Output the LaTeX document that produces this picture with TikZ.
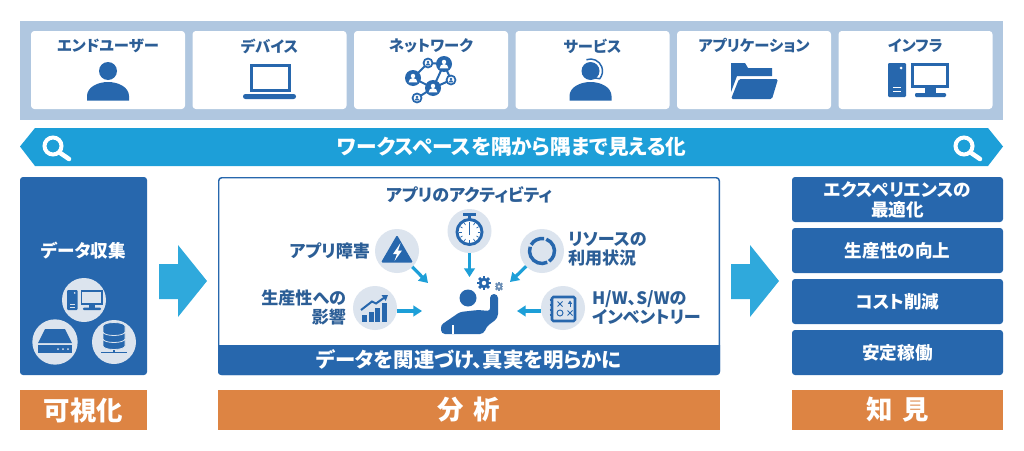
\documentclass[tikz,border=0pt]{standalone}
\usepackage{fontspec}
\setmainfont{Noto Sans CJK JP}[RawFeature={+palt}]
\usetikzlibrary{arrows.meta}
\definecolor{panelblue}{HTML}{B0C7E0}
\definecolor{boxblue}{HTML}{2767AD}
\definecolor{bandblue}{HTML}{1D9FD8}
\definecolor{bigarrowblue}{HTML}{2FA9DC}
\definecolor{softcircle}{HTML}{DCE4EE}
\definecolor{labelblue}{HTML}{2C5E96}
\definecolor{stageorange}{HTML}{DD8443}
\tikzset{
	every node/.style={inner sep=0pt, outer sep=0pt},
	cardbox/.style={fill=white, rounded corners=2.5pt, minimum width=115.5pt, minimum height=58.5pt},
	cardlabel/.style={font=\fontsize{11.5}{13}\selectfont\bfseries, text=labelblue},
	midlabel/.style={font=\fontsize{12.8}{14.6}\selectfont\bfseries, text=labelblue},
	whitelabel/.style={font=\fontsize{13.2}{15}\selectfont\bfseries, text=white, align=center},
	bluebox/.style={fill=boxblue, rounded corners=2.25pt},
	insightbox/.style={bluebox, minimum width=158.25pt, minimum height=33.75pt},
	stagebox/.style={fill=stageorange, minimum height=30pt, font=\fontsize{19.8}{22}\selectfont\bfseries, text=white},
	softdisc/.style={circle, fill=softcircle, minimum size=33pt},
	flowarrow/.style={draw=bandblue, line width=2.4pt, -{Triangle[length=6.5pt, width=8pt]}}
}
\newcommand{\carditem}[3] % name, x, label
{
	\node[cardbox] (#1) at (#2,70) {};
	\node[cardlabel] (#1label) at (#2,46) {#3};
}
\newcommand{\personicon}[2] % x, y of head
{
	\fill[boxblue] (#1,#2) circle (9);
	\fill[boxblue] (#1-21,#2+29.5) -- (#1-21,#2+25) .. controls (#1-21,#2+16) and (#1-10,#2+11) .. (#1,#2+11)
		.. controls (#1+10,#2+11) and (#1+21,#2+16) .. (#1+21,#2+25) -- (#1+21,#2+29.5) -- cycle;
}
\newcommand{\neticon}[4] % x, y, radius, big or small
{
	\ifnum#4=1
		\fill[boxblue] (#1,#2) circle (#3);
		\fill[white] (#1,#2-2) circle (#3*0.28);
		\fill[white] (#1-#3*0.55,#2+#3*0.55) arc[start angle=180, end angle=360, radius=#3*0.55] -- cycle;
	\else
		\filldraw[fill=white, draw=boxblue, line width=1.3pt] (#1,#2) circle (#3);
		\fill[boxblue] (#1,#2-1) circle (#3*0.3);
		\fill[boxblue] (#1-#3*0.5,#2+#3*0.55) arc[start angle=180, end angle=360, radius=#3*0.5] -- cycle;
	\fi
}
\newcommand{\pcicon}[4] % x, y, scale, detail colour
{
	\begin{scope}[shift={(#1,#2)}, scale=#3]
		% tower
		\fill[boxblue, rounded corners=0.8pt] (0,0) rectangle (18,34);
		\fill[#4] (13,5) circle (1.5);
		\fill[#4] (5,24) rectangle (13,25);
		\fill[#4] (5,28) rectangle (13,29);
		% screen
		\draw[boxblue, line width=#3*2.4pt] (24.5,1.5) rectangle (59.5,23.5);
		\fill[boxblue] (37,24) rectangle (48,31);
		\fill[boxblue, rounded corners=0.8pt] (27,30) rectangle (58,34);
	\end{scope}
}
\newcommand{\lensicon}[2] % x, y of glass
{
	\draw[white, line width=3pt] (#1,#2) circle (8.5);
	\draw[white, line width=3.4pt, line cap=round] (#1+6.5,#2+6.5) -- (#1+16,#2+13);
}
\newcommand{\bigarrow}[1] % x of tail
{
	\fill[bigarrowblue] (#1,264) -- (#1+19,264) -- (#1+19,245) -- (#1+48,281) -- (#1+19,317) -- (#1+19,299) -- (#1,299) -- cycle;
}
\newcommand{\gearicon}[4] % x, y, radius, colour
{
	\foreach \a in {0,45,...,315}
		\draw[#4, line width=#3*0.4pt] (#1,#2) ++(\a:#3*0.7) -- ++(\a:#3*0.62);
	\fill[#4] (#1,#2) circle (#3);
	\fill[white] (#1,#2) circle (#3*0.42);
}
\begin{document}
\begin{tikzpicture}[x=0.75pt, y=-0.75pt]
	\useasboundingbox (0,0) rectangle (1024,450);
	% source panel
	\fill[panelblue] (20,21) rectangle (1003,120);
	\carditem{enduser}{108}{エンドユーザー}
	\carditem{device}{269.5}{デバイス}
	\carditem{network}{431}{ネットワーク}
	\carditem{service}{592.5}{サービス}
	\carditem{appli}{754}{アプリケーション}
	\carditem{infra}{915.5}{インフラ}
	\personicon{108}{71}
	% laptop
	\draw[boxblue, line width=2.4pt] (251.5,65.5) rectangle (289.5,90.5);
	\fill[boxblue, rounded corners=1.8pt] (243,94) rectangle (296,99);
	% network
	\draw[boxblue, line width=1.5pt] (413,78) -- (428,63) -- (444,64) -- (451,80) -- (433,88) -- (417,98);
	\draw[boxblue, line width=1.5pt] (413,78) -- (433,88) -- (444,64);
	\neticon{428}{63}{4.5}{0}
	\neticon{451}{80}{4.5}{0}
	\neticon{417}{98}{4.5}{0}
	\neticon{413}{78}{8}{1}
	\neticon{444}{64}{8}{1}
	\neticon{433}{88}{8}{1}
	% service person with headset
	\personicon{590.5}{71}
	\draw[boxblue, line width=1.1pt] (590.5,71) ++(-110:12) arc[start angle=-110, end angle=40, radius=12] -- (592,77.5);
	% folder
	\fill[boxblue] (731,63) -- (745,63) -- (748,68) -- (772,68) -- (772,76) -- (737,76) -- (731,92) -- cycle;
	\fill[boxblue, rounded corners=1.2pt] (739,79) -- (778,79) -- (772,99) -- (731,99) -- cycle;
	\pcicon{888}{63}{1}{white}
	% band
	\fill[bandblue] (20,146.5) -- (35,128) -- (988,128) -- (1003,146.5) -- (988,166) -- (35,166) -- cycle;
	\node[font=\fontsize{15.5}{17}\selectfont\bfseries, text=white] (bandlabel) at (512,146.5) {ワークスペースを隅から隅まで見える化};
	\lensicon{53}{146}
	\lensicon{964}{146}
	% collection
	\node[bluebox, minimum width=95.25pt, minimum height=148.5pt] (collect) at (83.5,276) {};
	\node[whitelabel] (collectlabel) at (83.5,251) {データ収集};
	\node[softdisc] (pcdisc) at (84,300) {};
	\node[softdisc, minimum size=34pt] (hdddisc) at (55,342) {};
	\node[softdisc] (dbdisc) at (114,342) {};
	\pcicon{67}{290}{0.59}{softcircle}
	% disk
	\fill[boxblue] (45,329) -- (65,329) -- (72,343) -- (38,343) -- cycle;
	\fill[boxblue] (38,345) rectangle (72,353);
	\foreach \d in {58,63,68}
		\fill[softcircle] (\d,349) circle (1);
	% database
	\draw[boxblue, line width=1pt] (114,346) -- (114,352);
	\draw[boxblue, line width=1pt] (101,352.5) -- (127,352.5);
	\foreach \d in {340,333,326}
		\filldraw[fill=boxblue, draw=softcircle, line width=0.6pt] (103,\d) arc[start angle=180, end angle=360, x radius=11, y radius=3.5] -- (125,\d+6) arc[start angle=0, end angle=180, x radius=11, y radius=3.5] -- cycle;
	\bigarrow{159}
	\bigarrow{731}
	% analysis
	\node[draw=boxblue, line width=1.1pt, fill=white, rounded corners=2.25pt, minimum width=375.4pt, minimum height=147.4pt] (analysis) at (469,276) {};
	\fill[boxblue] (218,345) [rounded corners=2.25pt] -- (218,375) -- (720,375) [sharp corners] -- (720,345) -- cycle;
	\node[font=\fontsize{15.3}{18}\selectfont\bfseries, text=white] (truth) at (469,360) {データを関連づけ、真実を明らかに};
	\node[midlabel] (activitylabel) at (469,195) {アプリのアクティビティ};
	\node[midlabel, anchor=east] (faultlabel) at (370,251) {アプリ障害};
	\node[midlabel, anchor=east, align=right] (impactlabel) at (346,307.5) {生産性への\\影響};
	\node[midlabel, anchor=west, align=left] (resourcelabel) at (568,249) {リソースの\\利用状況};
	\node[midlabel, anchor=west, align=left] (inventorylabel) at (592,307.5) {H/W、S/Wの\\インベントリー};
	\node[softdisc] (activity) at (469.5,231) {};
	\node[softdisc] (fault) at (397,251) {};
	\node[softdisc] (resource) at (542,251) {};
	\node[softdisc] (impact) at (375,308) {};
	\node[softdisc] (inventory) at (563,308) {};
	% stopwatch
	\filldraw[fill=white, draw=boxblue, line width=2.2pt] (469.5,232) circle (12.5);
	\draw[boxblue, line width=2.2pt] (463,214.5) -- (476,214.5);
	\draw[boxblue, line width=2pt] (469.5,215) -- (469.5,219);
	\foreach \a in {0,30,...,330}
		\draw[boxblue, line width=0.5pt] (469.5,232) ++(\a:8) -- ++(\a:2.5);
	\draw[boxblue, line width=0.9pt] (469.5,235) -- (469.5,224);
	% alert
	\fill[boxblue, rounded corners=1pt] (397,235) -- (413,262.5) -- (381,262.5) -- cycle;
	\fill[white] (400.5,243) -- (393,254) -- (397,254) -- (394.5,261) -- (402,250.5) -- (398,250.5) -- cycle;
	% ring
	\draw[boxblue, line width=2.6pt] (542,251) ++(-70:12.5) arc[start angle=-70, end angle=55, radius=12.5];
	\draw[boxblue, line width=2.6pt] (542,251) ++(65:12.5) arc[start angle=65, end angle=200, radius=12.5];
	\draw[boxblue, line width=2.6pt] (542,251) ++(210:12.5) arc[start angle=210, end angle=280, radius=12.5];
	% bars
	\foreach \d/\h in {362/315,368.5/312,375/308,381.5/303}
		\fill[boxblue] (\d,\h) rectangle (\d+5,322);
	\draw[boxblue, line width=1.5pt, -{Triangle[length=4pt, width=5pt]}] (361,310) -- (372,301.5) -- (376,303.5) -- (388,295);
	% board
	\draw[boxblue, line width=1.9pt, rounded corners=1pt] (552,297) rectangle (575,321);
	\foreach \d in {300,305,310,315}
		\draw[boxblue, line width=1pt] (549.5,\d) -- (552,\d);
	\draw[boxblue, line width=0.7pt] (557.5,301.5) -- (562.5,306.5) (557.5,306.5) -- (562.5,301.5);
	\draw[boxblue, line width=0.7pt] (567.5,310.5) -- (572.5,315.5) (567.5,315.5) -- (572.5,310.5);
	\draw[boxblue, line width=0.7pt] (560,313) circle (3);
	\draw[boxblue, line width=0.7pt, -{Triangle[length=2.5pt, width=3pt]}] (570,307) -- (570,300.5);
	% worker
	\fill[boxblue] (468,298) circle (8.5);
	\fill[boxblue, rounded corners=2pt] (441,334) -- (441,325) -- (460,312) -- (478,310) -- (490,311) [sharp corners] -- (490,298) arc[start angle=180, end angle=360, radius=4] [rounded corners=3pt] -- (498,318) -- (486,327) -- (484,334) -- cycle;
	\draw[white, line width=0.8pt] (453,325) -- (453,334);
	\gearicon{484}{283}{5.3}{boxblue}
	\gearicon{499}{286.5}{3.4}{labelblue!70}
	% inputs of the worker
	\coordinate (activityin) at (469.5,277);
	\coordinate (faultin) at (428,283);
	\coordinate (resourcein) at (510,282);
	\coordinate (impactin) at (422,311);
	\coordinate (inventoryin) at (517,311);
	\draw[flowarrow] (activity) -- (activityin);
	\draw[flowarrow] (fault) -- (faultin);
	\draw[flowarrow] (resource) -- (resourcein);
	\draw[flowarrow] (impact.east |- impactin) -- (impactin);
	\draw[flowarrow] (inventory.west |- inventoryin) -- (inventoryin);
	% insight
	\node[insightbox] (experience) at (897.5,199.5) {};
	\node[whitelabel] (experiencelabel) at (897.5,199.5) {エクスペリエンスの\\最適化};
	\node[insightbox] (product) at (897.5,250.5) {};
	\node[whitelabel] (productlabel) at (897.5,250.5) {生産性の向上};
	\node[insightbox] (cost) at (897.5,301.5) {};
	\node[whitelabel] (costlabel) at (897.5,301.5) {コスト削減};
	\node[insightbox] (stable) at (897.5,352.5) {};
	\node[whitelabel] (stablelabel) at (897.5,352.5) {安定稼働};
	% stages
	\node[stagebox, minimum width=95.25pt] (visible) at (83.5,410) {可視化};
	\node[stagebox, minimum width=376.5pt] (analyze) at (469,410) {分\hspace{0.35em}析};
	\node[stagebox, minimum width=158.25pt] (insight) at (897.5,410) {知\hspace{0.35em}見};
\end{tikzpicture}
\end{document}
